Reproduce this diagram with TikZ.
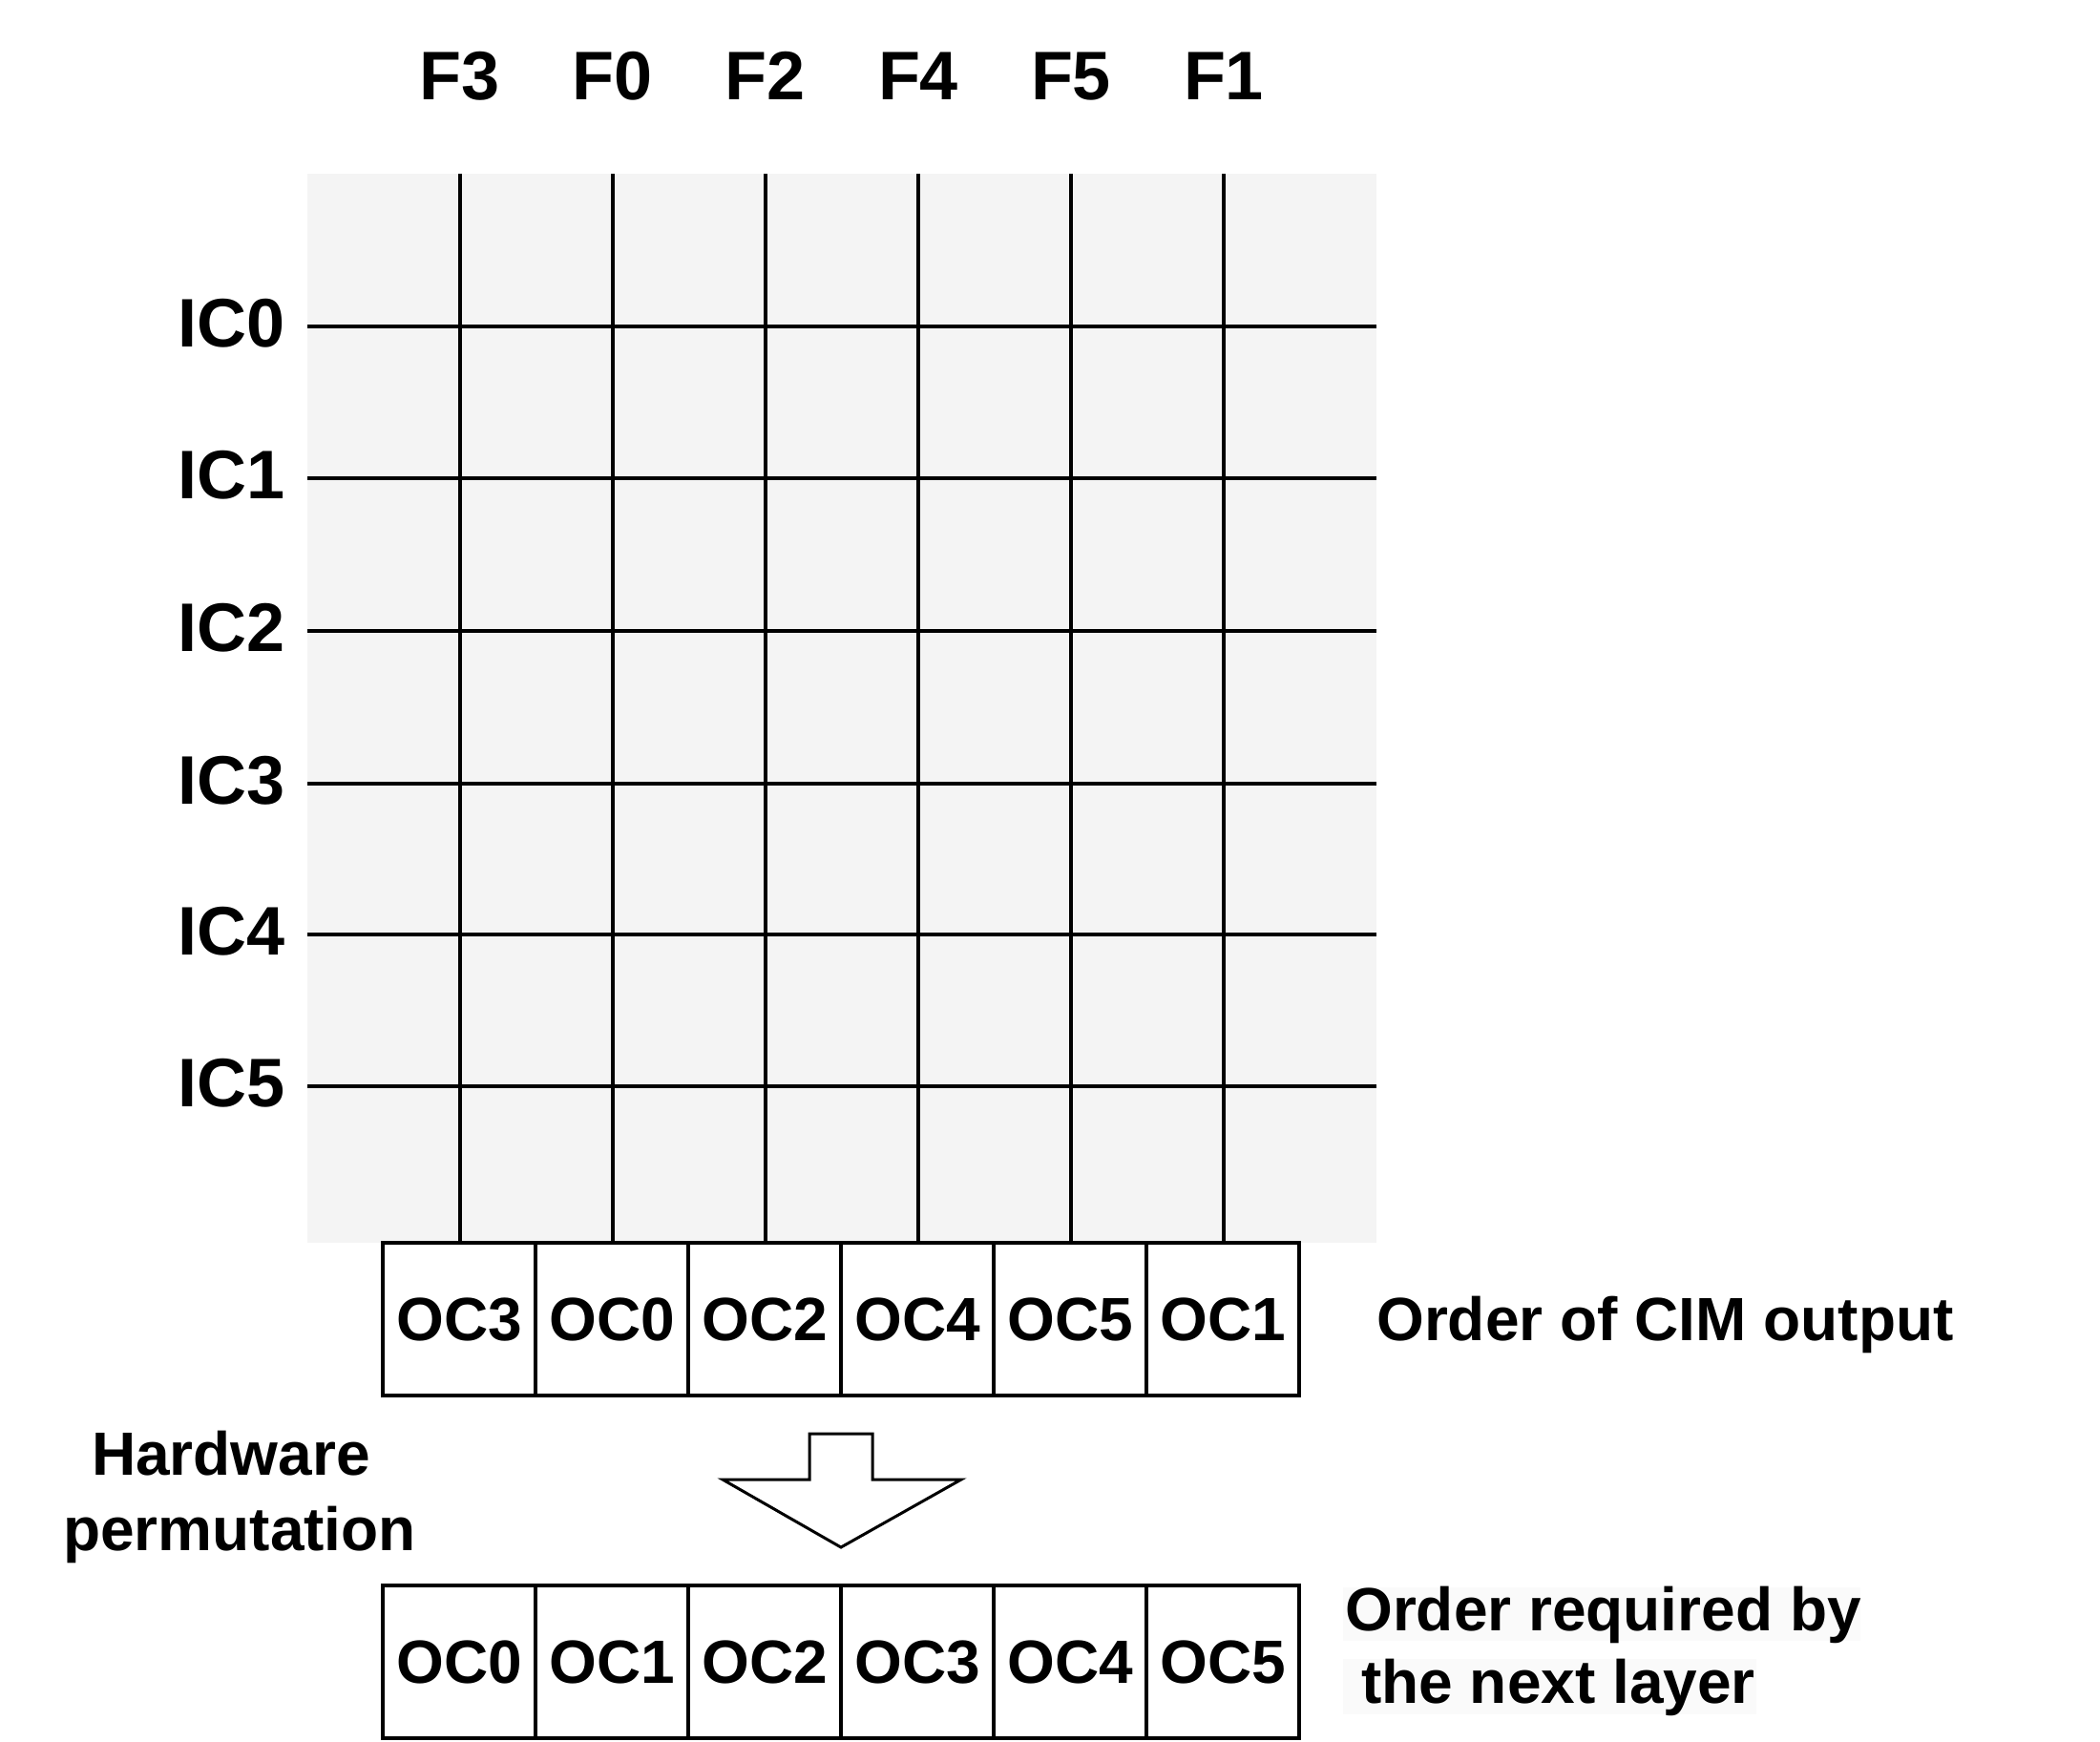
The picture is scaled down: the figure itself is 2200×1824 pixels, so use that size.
\documentclass[tikz,border=0pt]{standalone}
\usepackage{fontspec}
\setmainfont{Liberation Sans}
\definecolor{gridbg}{HTML}{F4F4F4}
\definecolor{hl}{HTML}{FAFAFA}
\begin{document}
\begin{tikzpicture}[x=1pt,y=-1pt,
  lbl/.style={font=\fontsize{64}{76}\selectfont\bfseries, inner sep=0pt},
  big/.style={font=\fontsize{72}{86}\selectfont\bfseries, inner sep=0pt},
  cell/.style={draw, line width=3.5pt, minimum width=160pt, minimum height=160pt,
    inner sep=0pt, font=\fontsize{64}{76}\selectfont\bfseries, fill=white},
  gline/.style={line width=4pt},
  arrowline/.style={line width=3pt, fill=white, line join=miter}]
\useasboundingbox[fill=white] (0,0) rectangle (2200,1824);
% grid
\fill[gridbg] (322,182) rectangle (1442,1302);
\foreach \x/\t [count=\i] in {482/F3,642/F0,802/F2,962/F4,1122/F5,1282/F1}{
  \draw[gline] (\x,182) -- (\x,1302);
  \node[big, anchor=base] (f\i) at (\x,104) {\t};
}
\foreach \y/\t [count=\i] in {342/IC0,501/IC1,661/IC2,821/IC3,979/IC4,1138/IC5}{
  \draw[gline] (322,\y) -- (1442,\y);
  \node[big, anchor=base east] (ic\i) at (299,\y+21.5) {\t};
}
% output rows
\foreach \t [count=\i] in {OC3,OC0,OC2,OC4,OC5,OC1}{
  \node[cell] (a\i) at (321+160*\i,1382) {\t};
}
\foreach \t [count=\i] in {OC0,OC1,OC2,OC3,OC4,OC5}{
  \node[cell] (b\i) at (321+160*\i,1741) {\t};
}
% labels
\node[lbl, anchor=base west] (cim) at (1442,1404) {Order of CIM output};
\fill[hl] (1407,1663) rectangle (1949,1719);
\fill[hl] (1407,1738) rectangle (1840,1796);
\node[lbl, anchor=base west] (req1) at (1409,1708) {Order required by};
\node[lbl, anchor=base west] (req2) at (1426,1784) {the next layer};
\node[lbl, anchor=base] (hw1) at (242,1545) {Hardware};
\node[lbl, anchor=base] (hw2) at (251,1624) {permutation};
% block arrow
\draw[arrowline] (848,1502) -- (914,1502) -- (914,1550) -- (1007,1550)
  -- (881,1621) -- (757,1550) -- (848,1550) -- cycle;
\end{tikzpicture}
\end{document}
